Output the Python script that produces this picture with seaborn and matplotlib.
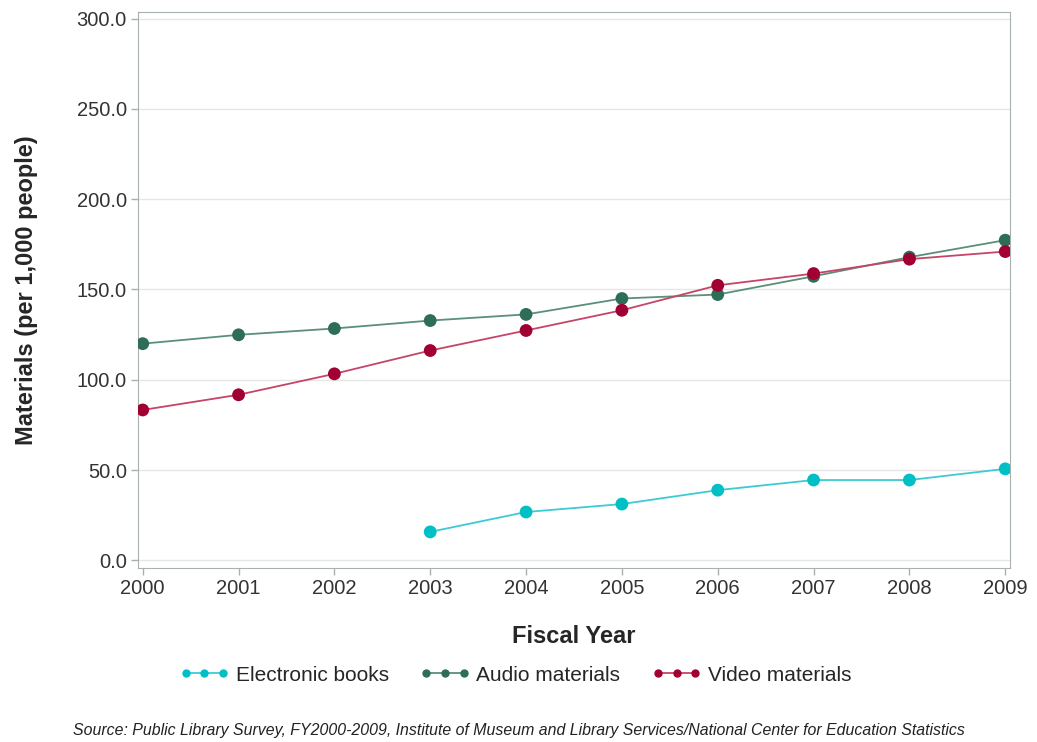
import numpy as np
import pandas as pd
import matplotlib
matplotlib.use("Agg")
import matplotlib.pyplot as plt
import seaborn as sns
from matplotlib.lines import Line2D

years = [2000, 2001, 2002, 2003, 2004, 2005, 2006, 2007, 2008, 2009]
ebooks = [np.nan, np.nan, np.nan, 15.8, 26.8, 31.2, 38.9, 44.5, 44.5, 50.7]
audio = [120.0, 124.9, 128.4, 132.8, 136.2, 145.0, 147.2, 157.3, 167.9, 177.3]
video = [83.3, 91.7, 103.3, 116.2, 127.3, 138.5, 152.3, 158.8, 166.8, 171.0]

series = ["Electronic books", "Audio materials", "Video materials"]
line_colors = ["#3ccbd2", "#5a8f7a", "#c64468"]
marker_colors = ["#00c0c6", "#2e6e57", "#a10032"]

df = pd.DataFrame({"year": years * 3,
                   "value": ebooks + audio + video,
                   "series": np.repeat(series, len(years))})

sns.set_style("white")
plt.rcParams['font.family'] = ['Liberation Sans', 'DejaVu Sans']

fig = plt.figure(figsize=(10.37, 7.42), dpi=100)
ax = fig.add_axes([0.133, 0.2345, 0.841, 0.7495])

# lines first, then the darker dots on top
sns.lineplot(data=df, x="year", y="value", hue="series", hue_order=series,
             palette=line_colors, linewidth=1.3, legend=False, ax=ax)
sns.scatterplot(data=df.dropna(), x="year", y="value", hue="series", hue_order=series,
                palette=marker_colors, s=85, linewidth=0, legend=False, ax=ax, zorder=3)

ax.set_xlim(1999.95, 2009.05)
ax.set_ylim(-4.2, 303.7)
ax.set_xticks(years)
ax.set_yticks(np.arange(0, 301, 50))
ax.set_yticklabels([f"{v:.1f}" for v in np.arange(0, 301, 50)])
ax.yaxis.grid(True, color="#e6e6e6", linewidth=1)
for s in ax.spines.values():
    s.set_color("#a8b0b0")
ax.tick_params(axis="both", labelsize=14.5, labelcolor="#333333", color="#a8b0b0",
               length=5, width=1, direction="out", left=True, bottom=True, pad=3)

ax.set_xlabel("Fiscal Year", fontsize=17, fontweight="bold", labelpad=19)
ax.set_ylabel("Materials (per 1,000 people)", fontsize=17, fontweight="bold", labelpad=28)

handles = [Line2D([0], [0], color=lc, marker="o", markerfacecolor=mc, markeredgecolor=mc,
                  markersize=5, linewidth=1.3)
           for lc, mc in zip(line_colors, marker_colors)]
fig.legend(handles, series, loc="center", bbox_to_anchor=(0.497, 0.09), ncol=3,
           frameon=False, numpoints=3, handlelength=2.4, columnspacing=1.5,
           handletextpad=0.3, prop={"size": 15})

fig.text(0.5, 0.015, "Source: Public Library Survey, FY2000-2009, Institute of Museum and Library "
         "Services/National Center for Education Statistics",
         ha="center", va="center", fontsize=11.4, style="italic", color="#222222")

fig.savefig("out.png", dpi=100)
